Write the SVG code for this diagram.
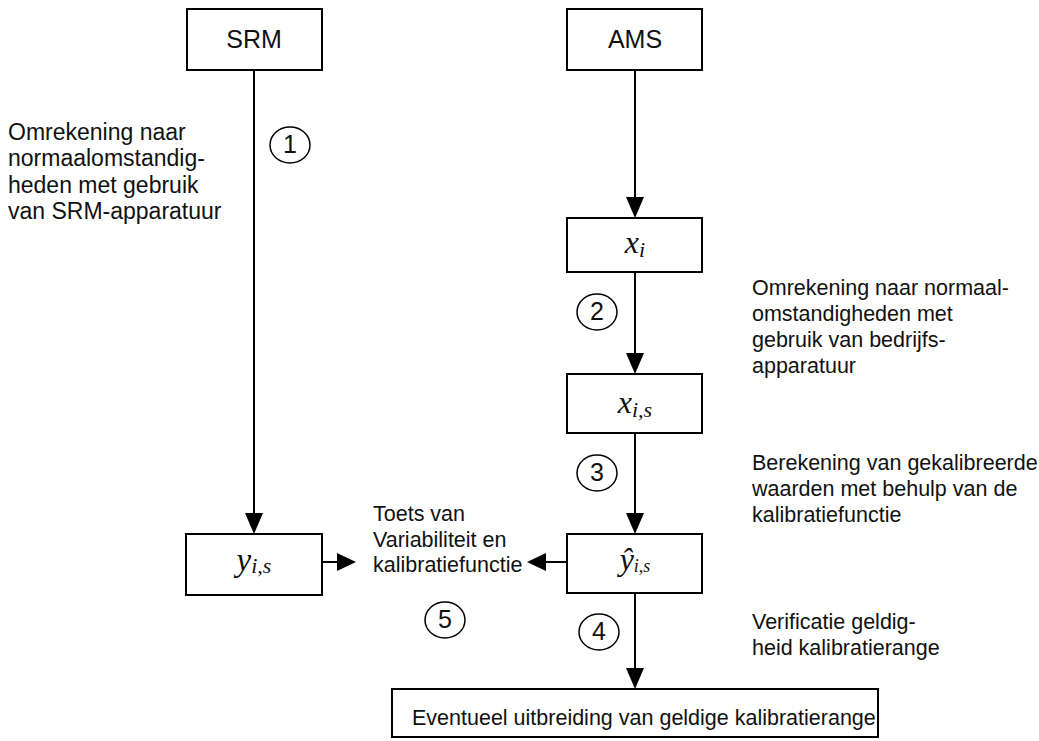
<svg xmlns="http://www.w3.org/2000/svg" width="1039" height="741" viewBox="0 0 1039 741">
<style>
.box{fill:#fff;stroke:#000;stroke-width:2}
.ln{stroke:#000;stroke-width:2;fill:none}
.circ{fill:none;stroke:#000;stroke-width:1.5}
.t{font-family:"Liberation Sans",Arial,sans-serif;font-size:21.5px;fill:#111}
.tl{font-size:23px}
.h{font-family:"Liberation Sans",Arial,sans-serif;font-size:25px;fill:#111;text-anchor:middle}
.m{font-family:"Liberation Serif","Times New Roman",serif;font-style:italic;fill:#111;text-anchor:middle}
</style>
<rect width="1039" height="741" fill="#fff"/>
<g id="connectors">
<line class="ln" x1="254" y1="70" x2="254" y2="513"/><path d="M245,513 L263,513 L254,534 Z"/>
<line class="ln" x1="635" y1="70" x2="635" y2="197"/><path d="M626,197 L644,197 L635,218 Z"/>
<line class="ln" x1="635" y1="272" x2="635" y2="353"/><path d="M626,353 L644,353 L635,374 Z"/>
<line class="ln" x1="635" y1="433" x2="635" y2="513"/><path d="M626,513 L644,513 L635,534 Z"/>
<line class="ln" x1="635" y1="593" x2="635" y2="668"/><path d="M626,668 L644,668 L635,689 Z"/>
<line class="ln" x1="322" y1="562" x2="337" y2="562"/><path d="M337,553 L337,571 L356,562 Z"/>
<line class="ln" x1="567" y1="562" x2="546" y2="562"/><path d="M546,553 L546,571 L527,562 Z"/>
</g>
<g id="srm"><rect class="box" x="187" y="9" width="135" height="61"/><text class="h" x="254" y="48">SRM</text></g>
<g id="ams"><rect class="box" x="567" y="9" width="135" height="61"/><text class="h" x="635" y="48">AMS</text></g>
<g id="xi"><rect class="box" x="567" y="218" width="135" height="54"/><text class="m" x="635" y="253" font-size="32">x<tspan font-size="22" dy="4">i</tspan></text></g>
<g id="xis"><rect class="box" x="567" y="374" width="135" height="59"/><text class="m" x="635" y="413" font-size="32">x<tspan font-size="22" dy="4">i,s</tspan></text></g>
<g id="yhat"><rect class="box" x="567" y="534" width="135" height="59"/><text class="m" x="635" y="570" font-size="32">ŷ<tspan font-size="18" dy="2">i,s</tspan></text></g>
<g id="yis"><rect class="box" x="186" y="534" width="136" height="61"/><text class="m" x="254" y="571" font-size="33">y<tspan font-size="22" dy="2">i,s</tspan></text></g>
<g id="final"><rect class="box" x="392" y="689" width="486" height="48"/><text class="t" x="412" y="725" font-size="20.6">Eventueel uitbreiding van geldige kalibratierange</text></g>
<g id="labels">
<text class="t tl" x="8" y="140">Omrekening naar</text>
<text class="t tl" x="8" y="166">normaalomstandig-</text>
<text class="t tl" x="8" y="193">heden met gebruik</text>
<text class="t tl" x="8" y="219">van SRM-apparatuur</text>
<text class="t" x="752" y="295">Omrekening naar normaal-</text>
<text class="t" x="752" y="321">omstandigheden met</text>
<text class="t" x="752" y="347">gebruik van bedrijfs-</text>
<text class="t" x="752" y="373">apparatuur</text>
<text class="t" x="752" y="470">Berekening van gekalibreerde</text>
<text class="t" x="752" y="496">waarden met behulp van de</text>
<text class="t" x="752" y="522">kalibratiefunctie</text>
<text class="t" x="752" y="629">Verificatie geldig-</text>
<text class="t" x="752" y="655">heid kalibratierange</text>
<text class="t" x="373" y="521">Toets van</text>
<text class="t" x="373" y="547">Variabiliteit en</text>
<text class="t" x="373" y="572">kalibratiefunctie</text>
</g>
<g id="steps">
<ellipse class="circ" cx="290" cy="145" rx="20" ry="18"/><text class="h" x="290" y="153" font-size="21.5">1</text>
<ellipse class="circ" cx="597" cy="312" rx="20" ry="18"/><text class="h" x="597" y="320" font-size="21.5">2</text>
<ellipse class="circ" cx="597" cy="473" rx="20" ry="18"/><text class="h" x="597" y="481" font-size="21.5">3</text>
<ellipse class="circ" cx="599" cy="632" rx="20" ry="18"/><text class="h" x="599" y="640" font-size="21.5">4</text>
<ellipse class="circ" cx="445" cy="620" rx="20" ry="18"/><text class="h" x="445" y="628" font-size="21.5">5</text>
</g>
</svg>
